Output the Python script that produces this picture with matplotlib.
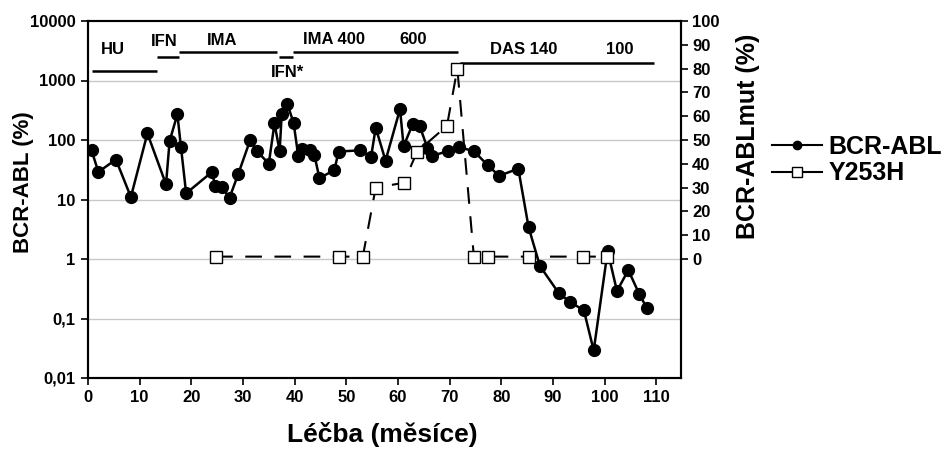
import matplotlib
matplotlib.use("Agg")
import matplotlib.pyplot as plt
from matplotlib.ticker import FixedLocator, NullLocator

# ---- data ----
bcr_months = [0.7, 2.0, 5.4, 8.3, 11.5, 15.1, 15.8, 17.3, 18.0, 19.0, 24.0, 24.6, 25.9, 27.4,
              29.1, 31.4, 32.7, 35.0, 36.1, 37.1, 37.5, 38.6, 39.8, 40.7, 41.4, 43.0, 43.8,
              44.8, 47.7, 48.5, 52.7, 54.8, 55.7, 57.6, 60.4, 61.1, 62.9, 64.2, 65.7, 66.5,
              69.7, 71.8, 74.7, 77.4, 79.6, 83.3, 85.3, 87.5, 91.1, 93.3, 96.0, 97.9, 100.6,
              102.4, 104.6, 106.7, 108.2]
bcr_values = [67, 29, 47, 11, 129, 18, 96, 270, 76, 12.7, 29, 17, 16, 10.7,
              27, 100, 65, 40, 190, 65, 270, 398, 195, 54, 70, 67, 57,
              23, 31, 64, 67, 52, 161, 45, 330, 79, 188, 172, 74, 54,
              65, 76, 65, 37.5, 25, 33, 3.4, 0.76, 0.27, 0.19, 0.137, 0.029, 1.36,
              0.29, 0.65, 0.26, 0.149]

mut_months = [24.8, 48.5, 53.2, 55.7, 61.1, 63.7, 69.5, 71.5, 74.7, 77.4, 85.3, 95.9, 100.4]
mut_values = [1, 1, 1, 30, 32, 45, 56, 80, 1, 1, 1, 1, 1]

left_ticks = [0.01, 0.1, 1, 10, 100, 1000, 10000]
left_tick_labels = ["0,01", "0,1", "1", "10", "100", "1000", "10000"]
right_ticks = [0, 10, 20, 30, 40, 50, 60, 70, 80, 90, 100]
x_ticks = [0, 10, 20, 30, 40, 50, 60, 70, 80, 90, 100, 110]

# treatment phases: label, label x, line start, line end
phase_labels = ["HU", "IFN", "IMA", "IFN*", "IMA 400", "600", "DAS 140", "100"]
phase_label_x = [4.9, 14.7, 25.9, 38.6, 47.6, 63.0, 84.3, 102.9]
phase_label_y = [3380, 4540, 4660, 1370, 4800, 4800, 3380, 3380]
phase_line_start = [0.7, 13.3, 17.7, 36.9, 39.6, 72.0]
phase_line_end = [13.3, 17.7, 36.5, 39.6, 71.7, 109.6]
phase_line_y = [1420, 2450, 3030, 2450, 3030, 1970]

# ---- style ----
plt.rcParams['font.family'] = ['Liberation Sans', 'DejaVu Sans']
plt.rcParams['font.weight'] = 'bold'

fig = plt.figure(figsize=(9.49, 4.5), dpi=100)
ax = fig.add_axes([88/949, 1-378/450, (681-88)/949, (378-21)/450])
ax2 = ax.twinx()

ax.set_yscale('log')
ax.set_ylim(0.01, 10000)
ax.set_xlim(0, 114.8)
ax2.set_ylim(-50, 100)

for v in left_ticks[1:-1]:
    ax.axhline(v, color='#c8c8c8', lw=1.0, zorder=0)

l1, = ax.plot(bcr_months, bcr_values, color='black', lw=1.8, marker='o',
              markersize=8.5, markerfacecolor='black', markeredgecolor='black',
              label='BCR-ABL', zorder=3)
l2, = ax2.plot(mut_months, mut_values, color='black', lw=1.5, dashes=(8, 6),
               marker='s', markersize=9, markerfacecolor='white',
               markeredgecolor='black', markeredgewidth=1.0, label='Y253H', zorder=4)

# phases
for s, e, y in zip(phase_line_start, phase_line_end, phase_line_y):
    ax.plot([s, e], [y, y], color='black', lw=1.8, solid_capstyle='butt')
for t, x, y in zip(phase_labels, phase_label_x, phase_label_y):
    ax.text(x, y, t, ha='center', va='center', fontsize=12, fontweight='bold')

ax.yaxis.set_major_locator(FixedLocator(left_ticks))
ax.set_yticklabels(left_tick_labels)
ax.yaxis.set_minor_locator(NullLocator())
ax.set_xticks(x_ticks)
ax2.set_yticks(right_ticks)

ax.tick_params(axis='both', direction='out', length=5, width=1.2, labelsize=12, pad=4)
ax2.tick_params(axis='y', direction='out', length=5, width=1.2, labelsize=12, pad=3)
for a in (ax, ax2):
    for sp in a.spines.values():
        sp.set_linewidth(1.5)

ax.set_xlabel('Léčba (měsíce)', fontsize=19, fontweight='bold', va='center')
ax.xaxis.set_label_coords(0.496, -0.158)
ax.set_ylabel('BCR-ABL (%)', fontsize=16, fontweight='bold', va='center')
ax.yaxis.set_label_coords(-0.109, 0.549)
ax2.set_ylabel('BCR-ABLmut (%)', fontsize=18, fontweight='bold', va='center')
ax2.yaxis.set_label_coords(1.113, 0.678)

h1 = matplotlib.lines.Line2D([], [], color='black', lw=1.5, marker='o', markersize=6,
                             markerfacecolor='black')
h2 = matplotlib.lines.Line2D([], [], color='black', lw=1.5, marker='s', markersize=7,
                             markerfacecolor='white', markeredgecolor='black')
fig.legend([h1, h2], ['BCR-ABL', 'Y253H'], loc='upper left',
           bbox_to_anchor=(772/949, 1-135/450), frameon=False,
           handlelength=2.0, handletextpad=0.25, labelspacing=0.1, borderpad=0,
           borderaxespad=0, prop={'weight': 'bold', 'size': 18})

fig.savefig('out.png', dpi=100)
